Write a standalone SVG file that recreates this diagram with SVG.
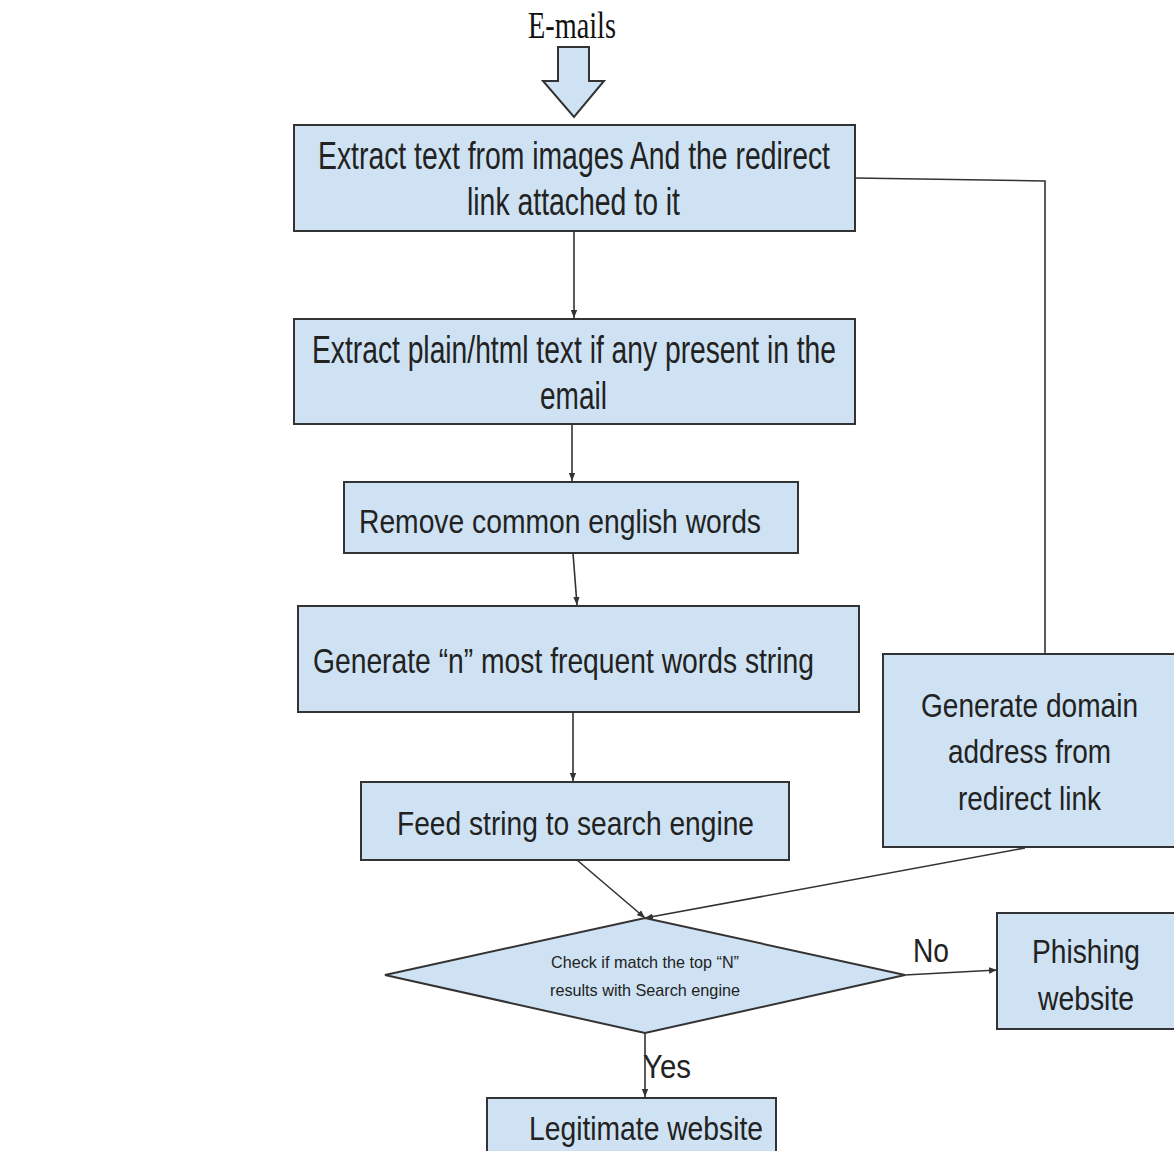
<svg xmlns="http://www.w3.org/2000/svg" width="1174" height="1151" viewBox="0 0 1174 1151">
<style>
.box{fill:#cfe2f3;stroke:#333;stroke-width:2}
.t{font-family:"Liberation Sans",Arial,sans-serif;font-size:33px;fill:#222}
.L{font-size:38px}
.M{font-size:35px}
.s{font-family:"Liberation Sans",Arial,sans-serif;font-size:17px;fill:#222}
.c{fill:none;stroke:#333;stroke-width:1.6}
</style>
<defs>
<marker id="ah" viewBox="0 0 10 10" refX="10" refY="5" markerWidth="8" markerHeight="8" markerUnits="userSpaceOnUse" orient="auto">
<path d="M0,1 L10,5 L0,9 z" fill="#333"/>
</marker>
</defs>
<rect width="1174" height="1151" fill="#fff"/>
<g id="emails">
<text x="528" y="38" textLength="88" lengthAdjust="spacingAndGlyphs" style="font-family:'Liberation Serif','Times New Roman',serif;font-size:37px;fill:#111">E-mails</text>
<path d="M558,47 L589,47 L589,81 L604,81 L574,117 L543,81 L558,81 Z" fill="#cfe2f3" stroke="#333" stroke-width="2"/>
</g>
<g id="connectors">
<path class="c" d="M855,178 L1045,181 L1045,654"/>
<path class="c" d="M574,231 L574,318" marker-end="url(#ah)"/>
<path class="c" d="M572,424 L572,481" marker-end="url(#ah)"/>
<path class="c" d="M573,553 L577,605" marker-end="url(#ah)"/>
<path class="c" d="M573,712 L573,781" marker-end="url(#ah)"/>
<path class="c" d="M577,860 L645,918" marker-end="url(#ah)"/>
<path class="c" d="M1025,848 L645,918" marker-end="url(#ah)"/>
<path class="c" d="M905,975 L997,970" marker-end="url(#ah)"/>
<path class="c" d="M645,1033 L645,1097" marker-end="url(#ah)"/>
<text class="t" x="913" y="962" textLength="36" lengthAdjust="spacingAndGlyphs">No</text>
<text class="t" x="643" y="1078" textLength="48" lengthAdjust="spacingAndGlyphs">Yes</text>
</g>
<g id="extract-images">
<rect class="box" x="294" y="125" width="561" height="106"/>
<text class="t L" x="318" y="169" textLength="512" lengthAdjust="spacingAndGlyphs">Extract text from images And the redirect</text>
<text class="t L" x="467" y="215" textLength="213" lengthAdjust="spacingAndGlyphs">link attached to it</text>
</g>
<g id="extract-plain">
<rect class="box" x="294" y="319" width="561" height="105"/>
<text class="t L" x="312" y="363" textLength="524" lengthAdjust="spacingAndGlyphs">Extract plain/html text if any present in the</text>
<text class="t L" x="540" y="409" textLength="67" lengthAdjust="spacingAndGlyphs">email</text>
</g>
<g id="remove-common">
<rect class="box" x="344" y="482" width="454" height="71"/>
<text class="t" x="359" y="533" textLength="402" lengthAdjust="spacingAndGlyphs">Remove common english words</text>
</g>
<g id="generate-n">
<rect class="box" x="298" y="606" width="561" height="106"/>
<text class="t M" x="313" y="673" textLength="501" lengthAdjust="spacingAndGlyphs">Generate “n” most frequent words string</text>
</g>
<g id="feed-string">
<rect class="box" x="361" y="782" width="428" height="78"/>
<text class="t" x="397" y="835" textLength="357" lengthAdjust="spacingAndGlyphs">Feed string to search engine</text>
</g>
<g id="generate-domain">
<rect class="box" x="883" y="654" width="295" height="193"/>
<text class="t" x="921" y="717" textLength="217" lengthAdjust="spacingAndGlyphs">Generate domain</text>
<text class="t" x="948" y="763" textLength="163" lengthAdjust="spacingAndGlyphs">address from</text>
<text class="t" x="958" y="810" textLength="143" lengthAdjust="spacingAndGlyphs">redirect link</text>
</g>
<g id="check-match">
<path class="box" d="M385,975 L645,918 L905,975 L645,1033 Z"/>
<text class="s" x="551" y="968" textLength="188" lengthAdjust="spacingAndGlyphs">Check if match the top “N”</text>
<text class="s" x="550" y="996" textLength="190" lengthAdjust="spacingAndGlyphs">results with Search engine</text>
</g>
<g id="phishing">
<rect class="box" x="997" y="913" width="181" height="116"/>
<text class="t" x="1032" y="963" textLength="108" lengthAdjust="spacingAndGlyphs">Phishing</text>
<text class="t" x="1038" y="1010" textLength="96" lengthAdjust="spacingAndGlyphs">website</text>
</g>
<g id="legitimate">
<rect class="box" x="487" y="1098" width="289" height="60"/>
<text class="t" x="529" y="1140" textLength="234" lengthAdjust="spacingAndGlyphs">Legitimate website</text>
</g>
</svg>
